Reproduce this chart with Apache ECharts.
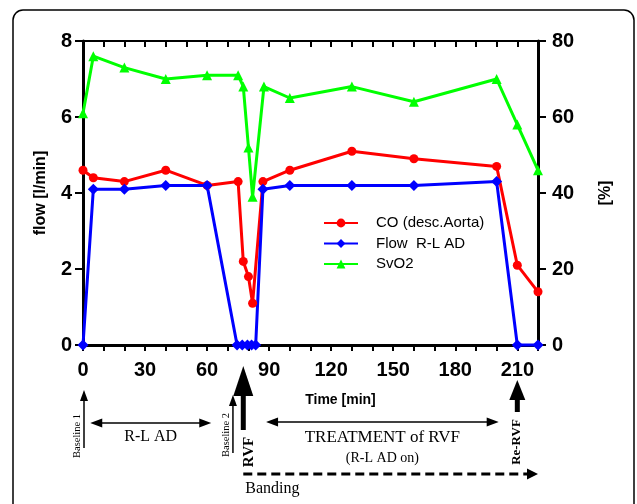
<!DOCTYPE html>
<html><head><meta charset="utf-8">
<script src="https://cdn.jsdelivr.net/npm/echarts@6/dist/echarts.min.js"></script>
<style>html,body{margin:0;padding:0;background:#fff}#c{width:637px;height:504px}</style>
</head><body><div id="c"></div>
<script>
// ---- data ----
const timeCO   = [0, 5, 20, 40, 60, 75, 77.5, 80, 82, 87, 100, 130, 160, 200, 210, 220];
const coValues = [4.6, 4.4, 4.3, 4.6, 4.2, 4.3, 2.2, 1.8, 1.1, 4.3, 4.6, 5.1, 4.9, 4.7, 2.1, 1.4];

const timeFlow   = [0, 5, 20, 40, 60, 74.5, 77, 79.5, 81.5, 83.5, 87, 100, 130, 160, 200, 210, 220];
const flowValues = [0, 4.1, 4.1, 4.2, 4.2, 0, 0, 0, 0, 0, 4.1, 4.2, 4.2, 4.2, 4.3, 0, 0];

const timeSvO2   = [0, 5, 20, 40, 60, 75, 77.5, 80, 82, 87.5, 100, 130, 160, 200, 210, 220];
const svo2Values = [61, 76, 73, 70, 71, 71, 68, 52, 39, 68, 65, 68, 64, 70, 58, 46];

const seriesNames = ['CO (desc.Aorta)', 'Flow  R-L AD', 'SvO2'];
const xTickLabels = [0, 30, 60, 90, 120, 150, 180, 210];
const leftTicks = [0, 2, 4, 6, 8];
const rightTicks = [0, 20, 40, 60, 80];

// annotation events (minutes)
const tBaseline1 = 0, tBaseline2 = 72.5, tRVF = 77.5, tReRVF = 210;
const tRLAD = [3.5, 62], tTreat = [88.5, 201], tBandEnd = 220;

const SANS = '"Liberation Sans", Arial, sans-serif';
const SERIF = '"Liberation Serif", "Times New Roman", serif';
const pair = (xs, ys) => xs.map((x, i) => [x, ys[i]]);

const chart = echarts.init(document.getElementById('c'), null, {renderer: 'canvas'});

const axisLine = {show: true, onZero: false, lineStyle: {color: '#000', width: 3}};
const tickLbl = {fontFamily: SANS, fontWeight: 'bold', fontSize: 20, color: '#000'};

chart.setOption({
  animation: false,
  backgroundColor: '#fff',
  grid: {left: 83, right: 99, top: 41, bottom: 159},
  xAxis: [{
    type: 'value', min: 0, max: 220, interval: 10, position: 'bottom',
    axisLine: axisLine,
    axisTick: {show: true, length: 6, lineStyle: {color: '#000', width: 2}},
    axisLabel: Object.assign({margin: 15, formatter: v => xTickLabels.includes(v) ? String(v) : ''}, tickLbl),
    splitLine: {show: false},
    name: 'Time [min]', nameLocation: 'middle', nameGap: 48,
    nameTextStyle: {fontFamily: SANS, fontWeight: 'bold', fontSize: 14, color: '#000', padding: [0, 0, 0, 60]}
  }, {
    type: 'value', min: 0, max: 220, interval: 10, position: 'top',
    axisLine: {show: true, onZero: false, lineStyle: {color: '#000', width: 2}},
    axisTick: {show: true, inside: true, length: 6, lineStyle: {color: '#000', width: 2}},
    axisLabel: {show: false}, splitLine: {show: false}
  }],
  yAxis: [{
    type: 'value', min: 0, max: 8, interval: 2, position: 'left',
    axisLine: axisLine,
    axisTick: {show: true, length: 8, lineStyle: {color: '#000', width: 2}},
    axisLabel: Object.assign({margin: 11, formatter: v => leftTicks.includes(v) ? String(v) : ''}, tickLbl),
    splitLine: {show: false},
    name: 'flow [l/min]', nameLocation: 'middle', nameGap: 34,
    nameTextStyle: {fontFamily: SANS, fontWeight: 'bold', fontSize: 16, color: '#000'}
  }, {
    type: 'value', min: 0, max: 80, interval: 20, position: 'right',
    axisLine: axisLine,
    axisTick: {show: true, length: 8, lineStyle: {color: '#000', width: 2}},
    axisLabel: Object.assign({margin: 14, formatter: v => rightTicks.includes(v) ? String(v) : ''}, tickLbl),
    splitLine: {show: false},
    name: '[%]', nameLocation: 'middle', nameGap: 60,
    nameTextStyle: {fontFamily: SANS, fontWeight: 'bold', fontSize: 16, color: '#000'}
  }],
  legend: {
    orient: 'vertical', left: 323, top: 215, padding: 0, itemWidth: 34, itemHeight: 11, itemGap: 4.5,
    data: seriesNames,
    textStyle: {fontFamily: SANS, fontSize: 15, color: '#000', lineHeight: 16, padding: [0, 0, 0, 13]}
  },
  series: [{
    name: seriesNames[0], type: 'line', data: pair(timeCO, coValues), clip: false,
    symbol: 'circle', symbolSize: 9,
    lineStyle: {color: '#ff0000', width: 3}, itemStyle: {color: '#ff0000'}
  }, {
    name: seriesNames[1], type: 'line', data: pair(timeFlow, flowValues), clip: false,
    symbol: 'diamond', symbolSize: 11,
    lineStyle: {color: '#0000ff', width: 3}, itemStyle: {color: '#0000ff'}
  }, {
    name: seriesNames[2], type: 'line', yAxisIndex: 1, data: pair(timeSvO2, svo2Values), clip: false,
    symbol: 'triangle', symbolSize: 10,
    lineStyle: {color: '#00ff00', width: 3}, itemStyle: {color: '#00ff00'}
  }]
});

// ---- annotations below the axis ----
const px = t => chart.convertToPixel({xAxisIndex: 0}, t);
const els = [];
function vArrow(x, yTop, yBot, shaftW, headW, headH) {
  els.push({type: 'line', shape: {x1: x, y1: yTop + headH - 1, x2: x, y2: yBot}, style: {stroke: '#000', lineWidth: shaftW}});
  els.push({type: 'polygon', shape: {points: [[x, yTop], [x - headW / 2, yTop + headH], [x + headW / 2, yTop + headH]]}, style: {fill: '#000'}});
}
function hArrow(x1, x2, y, w, hl, hw, both, dash) {
  els.push({type: 'line', shape: {x1: both ? x1 + hl - 1 : x1, y1: y, x2: x2 - hl + 1, y2: y},
    style: {stroke: '#000', lineWidth: w, lineDash: dash || null}});
  els.push({type: 'polygon', shape: {points: [[x2, y], [x2 - hl, y - hw / 2], [x2 - hl, y + hw / 2]]}, style: {fill: '#000'}});
  if (both) els.push({type: 'polygon', shape: {points: [[x1, y], [x1 + hl, y - hw / 2], [x1 + hl, y + hw / 2]]}, style: {fill: '#000'}});
}
function txt(s, x, y, size, bold, rot, align) {
  els.push({type: 'text', x: x, y: y, rotation: rot ? Math.PI / 2 : 0,
    style: {text: s, fontFamily: SERIF, fontSize: size, fontWeight: bold ? 'bold' : 'normal', fill: '#000',
      align: align || 'center', verticalAlign: 'middle'}});
}
// frame
els.push({type: 'rect', shape: {x: 13, y: 10, width: 621, height: 520, r: 10}, style: {fill: null, stroke: '#000', lineWidth: 1.5}});

const xb1 = px(tBaseline1) + 1, xb2 = px(tBaseline2), xr = px(tRVF), xre = px(tReRVF);
vArrow(xb1, 390, 448, 1.5, 8, 11);
txt('Baseline 1', xb1 - 7, 436, 10.5, false, true);
hArrow(px(tRLAD[0]), px(tRLAD[1]), 423, 1.5, 12, 9, true);
txt('R-L AD', (px(tRLAD[0]) + px(tRLAD[1])) / 2, 437, 16);
vArrow(xb2, 395, 453, 1.5, 8, 11);
txt('Baseline 2', xb2 - 7, 435, 10.5, false, true);
vArrow(xr, 366, 430, 5, 20, 30);
txt('RVF', xr + 6, 452, 15, true, true);
hArrow(px(tTreat[0]), px(tTreat[1]), 422, 1.5, 12, 9, true);
txt('TREATMENT of RVF', (px(tTreat[0]) + px(tTreat[1])) / 2, 438, 17);
txt('(R-L AD on)', (px(tTreat[0]) + px(tTreat[1])) / 2, 458, 14);
vArrow(xre, 380, 412, 5, 16, 20);
txt('Re-RVF', xre - 1, 442, 13, true, true);
hArrow(xr, px(tBandEnd), 474, 3, 11, 11, false, [9, 5]);
txt('Banding', xr + 2, 489, 16, false, false, 'left');

chart.setOption({graphic: {elements: els}});
</script>
</body></html>
